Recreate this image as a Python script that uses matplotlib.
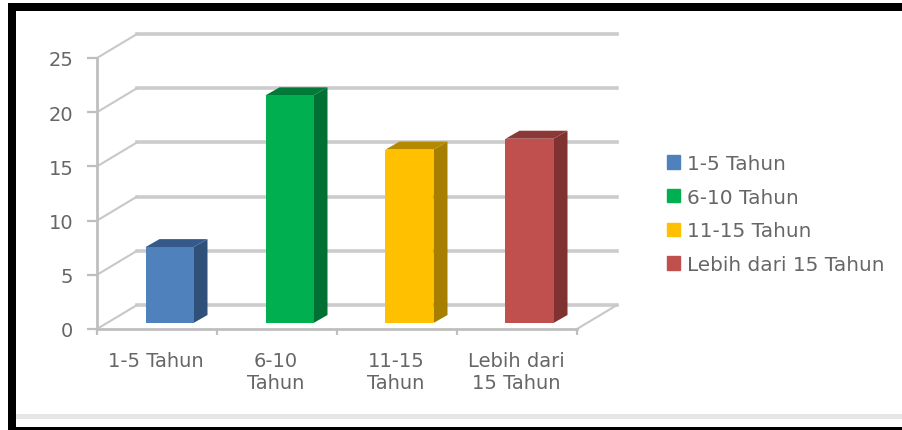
import matplotlib
matplotlib.use('Agg')
import matplotlib.pyplot as plt
from matplotlib.patches import Polygon, Patch, Rectangle

categories = ['1-5 Tahun', '6-10\nTahun', '11-15\nTahun', 'Lebih dari\n15 Tahun']
legend_labels = ['1-5 Tahun', '6-10 Tahun', '11-15 Tahun', 'Lebih dari 15 Tahun']
values = [7, 21, 16, 17]
y_ticks = [0, 5, 10, 15, 20, 25]

front_colors = ['#4f81bd', '#00b050', '#ffc000', '#c0504d']
top_colors = ['#35598a', '#007a36', '#b58900', '#8c3836']
side_colors = ['#2f5078', '#007033', '#a67e00', '#7f3230']

W, H = 902, 431
PX_X = 120.0   # pixels per category
PX_Y = 10.84   # pixels per y unit
text_col = '#666666'
line_col = '#bfbfbf'

fig = plt.figure(figsize=(W / 100, H / 100), dpi=100)
ax = fig.add_axes([97 / W, (H - 330) / H, 480 / W, 271 / H])
ax.set_xlim(0, 4)
ax.set_ylim(0, 25)
ax.patch.set_alpha(0)


def px(dx, dy):
    # pixel offset to data units
    return dx / PX_X, dy / PX_Y


# back wall gridlines and the slanted side lines
wall_x, wall_y = px(40, 24)
for t in y_ticks:
    ax.plot([wall_x, 4 + wall_x], [t + wall_y, t + wall_y],
            color='#cccccc', lw=2.6, clip_on=False, zorder=1)
    ax.plot([0, wall_x], [t, t + wall_y], color='#c8c8c8', lw=1.5, clip_on=False, zorder=1)
ax.plot([4, 4 + wall_x], [0, wall_y], color='#c8c8c8', lw=1.5, clip_on=False, zorder=1)

# bars
off_x, off_y = px(0, 6)
bar_w = 48 / PX_X
deep_x, deep_y = px(14, 8)
for i, v in enumerate(values):
    x0 = i + 0.5 + 12.5 / PX_X - bar_w / 2
    x1 = x0 + bar_w
    y0 = off_y
    y1 = v + off_y
    ax.add_patch(Polygon([(x1, y0), (x1 + deep_x, y0 + deep_y), (x1 + deep_x, y1 + deep_y), (x1, y1)],
                         color=side_colors[i], lw=0, clip_on=False, zorder=3))
    ax.add_patch(Polygon([(x0, y1), (x0 + deep_x, y1 + deep_y), (x1 + deep_x, y1 + deep_y), (x1, y1)],
                         color=top_colors[i], lw=0, clip_on=False, zorder=3))
    ax.add_patch(Polygon([(x0, y0), (x1, y0), (x1, y1), (x0, y1)],
                         color=front_colors[i], lw=0, clip_on=False, zorder=4))

for s in ['top', 'right']:
    ax.spines[s].set_visible(False)
for s in ['left', 'bottom']:
    ax.spines[s].set_color(line_col)
    ax.spines[s].set_linewidth(2)

ax.set_yticks(y_ticks)
ax.set_xticks(range(5))
ax.set_xticklabels([])
ax.tick_params(axis='y', length=7, width=1.6, color=line_col, labelcolor=text_col,
               labelsize=14, pad=10)
ax.tick_params(axis='x', length=4, width=1.6, color=line_col)

for i, c in enumerate(categories):
    ax.text(i + 0.5 - 1 / PX_X, -22 / PX_Y, c, ha='center', va='top', color=text_col,
            fontsize=14, linespacing=1.2, clip_on=False)

handles = [Patch(color=c) for c in front_colors]
fig.legend(handles, legend_labels, loc='center left', bbox_to_anchor=(667 / W, 1 - 215 / H),
           frameon=False, fontsize=14.4, labelcolor=text_col, handlelength=0.66, handleheight=0.66,
           handletextpad=0.35, labelspacing=0.74, borderpad=0, borderaxespad=0)

# black frame and the pale line above its bottom edge
frame = [(8, 4, W - 8, 8), (8, 4, 8, 427), (8, 428, W - 8, 3)]
for x, y, w, h in frame:
    fig.add_artist(Rectangle((x / W, 1 - (y + h) / H), w / W, h / H, transform=fig.transFigure,
                             color='black', lw=0))
fig.add_artist(Rectangle((16 / W, 1 - 420 / H), (W - 16) / W, 5 / H, transform=fig.transFigure,
                         color='#e6e6e6', lw=0))

fig.savefig('out.png', dpi=100)
